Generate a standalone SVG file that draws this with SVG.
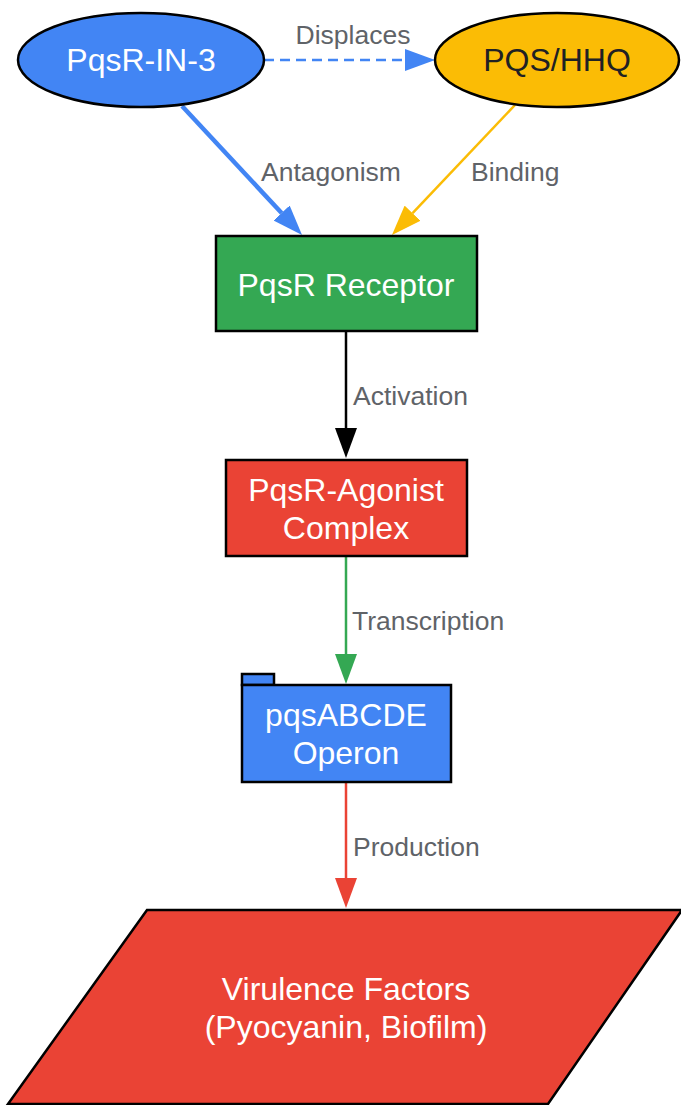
<svg xmlns="http://www.w3.org/2000/svg" width="681" height="1105" viewBox="0 0 681 1105">
<style>
.node{stroke:#000;stroke-width:2.5}
.nt{font-family:"Liberation Sans",Arial,sans-serif;font-size:32px;text-anchor:middle;fill:#fff}
.el{font-family:"Liberation Sans",Arial,sans-serif;font-size:26.5px;fill:#5F6368}
.edge{fill:none}
</style>
<defs>
<marker id="ab" markerUnits="userSpaceOnUse" markerWidth="30" markerHeight="22" refX="0" refY="11" orient="auto"><path d="M0,0L30,11L0,22z" fill="#4285F4"/></marker>
<marker id="ay" markerUnits="userSpaceOnUse" markerWidth="30" markerHeight="22" refX="0" refY="11" orient="auto"><path d="M0,0L30,11L0,22z" fill="#FBBC05"/></marker>
<marker id="ak" markerUnits="userSpaceOnUse" markerWidth="30" markerHeight="22" refX="0" refY="11" orient="auto"><path d="M0,0L30,11L0,22z" fill="#000"/></marker>
<marker id="ag" markerUnits="userSpaceOnUse" markerWidth="30" markerHeight="22" refX="0" refY="11" orient="auto"><path d="M0,0L30,11L0,22z" fill="#34A853"/></marker>
<marker id="ar" markerUnits="userSpaceOnUse" markerWidth="30" markerHeight="22" refX="0" refY="11" orient="auto"><path d="M0,0L30,11L0,22z" fill="#EA4335"/></marker>
</defs>
<g id="connectors">
<line class="edge" x1="264" y1="60" x2="405" y2="60" stroke="#4285F4" stroke-width="2.5" stroke-dasharray="10,6" marker-end="url(#ab)"/>
<text class="el" x="353" y="44" text-anchor="middle">Displaces</text>
<line class="edge" x1="182" y1="106" x2="281.6" y2="213" stroke="#4285F4" stroke-width="4.5" marker-end="url(#ab)"/>
<text class="el" x="261" y="181">Antagonism</text>
<line class="edge" x1="515" y1="105" x2="412.6" y2="213.2" stroke="#FBBC05" stroke-width="2.5" marker-end="url(#ay)"/>
<text class="el" x="471" y="181">Binding</text>
<line class="edge" x1="346" y1="331" x2="346" y2="428" stroke="#000" stroke-width="2.5" marker-end="url(#ak)"/>
<text class="el" x="353" y="405">Activation</text>
<line class="edge" x1="346" y1="556" x2="346" y2="654" stroke="#34A853" stroke-width="2.5" marker-end="url(#ag)"/>
<text class="el" x="352" y="630">Transcription</text>
<line class="edge" x1="346" y1="782" x2="346" y2="878" stroke="#EA4335" stroke-width="2.5" marker-end="url(#ar)"/>
<text class="el" x="353" y="856">Production</text>
</g>
<g id="pqsr-in-3">
<ellipse class="node" cx="141" cy="60" rx="123" ry="47" fill="#4285F4"/>
<text class="nt" x="141" y="71">PqsR-IN-3</text>
</g>
<g id="pqs-hhq">
<ellipse class="node" cx="557" cy="60" rx="122" ry="47" fill="#FBBC05"/>
<text class="nt" x="557" y="71" style="fill:#202124">PQS/HHQ</text>
</g>
<g id="pqsr-receptor">
<rect class="node" x="216" y="236" width="261" height="95" fill="#34A853"/>
<text class="nt" x="346" y="296">PqsR Receptor</text>
</g>
<g id="pqsr-agonist">
<rect class="node" x="226" y="460" width="241" height="96" fill="#EA4335"/>
<text class="nt" x="346" y="501">PqsR-Agonist</text>
<text class="nt" x="346" y="539">Complex</text>
</g>
<g id="operon">
<rect class="node" x="242" y="674" width="32" height="11" fill="#4285F4"/>
<rect class="node" x="242" y="685" width="209" height="97" fill="#4285F4"/>
<text class="nt" x="346" y="726">pqsABCDE</text>
<text class="nt" x="346" y="764">Operon</text>
</g>
<g id="virulence">
<polygon class="node" points="147,910 682,910 548,1104 8,1104" fill="#EA4335"/>
<text class="nt" x="346" y="1000">Virulence Factors</text>
<text class="nt" x="346" y="1038">(Pyocyanin, Biofilm)</text>
</g>
</svg>
